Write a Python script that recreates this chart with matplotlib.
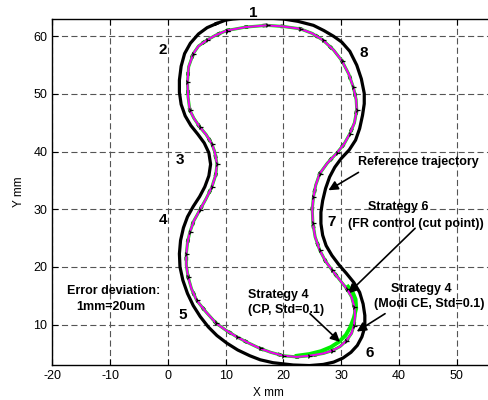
import numpy as np
import matplotlib.pyplot as plt

plt.rcParams['font.family'] = ['Liberation Sans', 'DejaVu Sans']
plt.rcParams['axes.unicode_minus'] = False

# reference trajectory (thick black), clockwise from top
ref_x = [8.4, 10.0, 11.3, 13.0, 15.0, 17.5, 20.0, 22.5, 25.2, 27.0, 28.7, 30.1, 31.5,
         32.7, 33.5, 34.0, 34.0, 33.7, 33.2, 32.5, 31.4, 30.0, 28.9, 28.0, 27.3,
         26.8, 26.5, 26.5, 26.8, 27.4, 28.4, 29.6, 30.9, 32.2, 33.2, 33.8, 34.1,
         34.1, 33.6, 32.8, 31.7, 30.3, 28.7, 26.9, 24.5, 21.7, 18.2, 16.0, 14.2,
         12.1, 10.2, 8.5, 7.0, 5.6, 4.4, 3.4, 2.6, 2.1, 2.0, 2.2, 2.7, 3.4, 4.4,
         5.5, 6.4, 7.1, 7.4, 7.1, 6.3, 5.2, 4.0, 3.0, 2.3, 2.0, 2.0, 2.3, 2.9,
         3.9, 5.3, 6.8, 8.4]
ref_y = [62.2, 62.8, 63.0, 63.15, 63.2, 63.15, 63.0, 62.6, 61.9, 61.0, 60.0, 59.0, 57.4,
         55.0, 52.6, 50.1, 48.3, 46.3, 44.0, 42.0, 40.3, 38.8, 37.3, 35.6, 33.6,
         31.5, 29.5, 27.5, 25.5, 23.7, 22.0, 20.4, 18.9, 17.3, 15.6, 13.6, 11.6,
         9.6, 7.9, 6.4, 5.2, 4.2, 3.5, 3.1, 2.9, 3.0, 3.4, 3.9, 4.6,
         5.6, 6.8, 8.1, 9.6, 11.4, 13.3, 15.4, 17.7, 20.0, 22.3, 24.6, 26.8, 28.7, 30.5,
         32.2, 33.9, 35.8, 37.8, 39.8, 41.5, 43.0, 44.5, 46.2, 48.2, 50.3, 52.4, 54.8, 57.0,
         58.8, 60.4, 61.5, 62.2]

# measured contour (magenta), clockwise from top
meas_x = [10.2, 13.5, 17.1, 20.0, 22.9, 25.0, 26.9, 28.7, 30.1, 31.3, 32.1, 32.6, 32.7,
          32.3, 31.5, 30.5, 29.2, 27.6, 26.3, 25.6, 25.2, 25.0, 25.1, 25.5, 26.3,
          27.3, 28.4, 29.8, 31.0, 31.8, 32.3, 32.4, 32.2, 31.8, 30.9, 29.8, 28.5,
          26.9, 24.5, 22.3, 20.0, 17.8, 15.9, 13.8, 11.9, 10.1, 8.4, 6.6, 5.0, 4.1,
          3.5, 3.2, 3.2, 3.4, 3.8, 4.5, 5.5, 6.6, 7.6, 8.3, 8.5, 8.1, 7.6, 6.6, 5.5,
          4.5, 3.8, 3.5, 3.4, 3.6, 4.4, 5.3, 6.7, 8.3, 10.2]
meas_y = [61.0, 61.6, 61.9, 61.7, 61.3, 60.5, 59.3, 57.6, 55.8, 53.5, 51.2, 49.0, 47.2,
          45.0, 43.1, 41.3, 39.7, 38.0, 36.2, 34.2, 32.1, 30.0, 27.6, 25.2, 22.9,
          21.0, 19.5, 17.7, 16.2, 14.8, 13.0, 11.4, 9.8, 8.5, 7.2, 6.2, 5.5,
          5.0, 4.6, 4.4, 4.6, 5.2, 5.9, 6.9, 7.9, 9.0, 10.2, 12.2, 14.2, 16.2,
          18.3, 20.3, 22.3, 24.2, 26.0, 28.0, 29.8, 31.8, 33.8, 36.0, 37.9, 40.0, 41.4, 43.0, 44.3,
          45.8, 47.2, 49.5, 52.0, 54.7, 57.0, 58.3, 59.3, 60.2, 61.0]

# green trace where it leaves the magenta one (bottom right)
green_x = [22.3, 24.5, 26.5, 28.2, 29.6, 30.8, 31.6, 32.2, 32.6, 32.5, 32.0, 31.2]
green_y = [4.6, 4.9, 5.4, 6.1, 7.0, 8.2, 9.6, 11.2, 12.8, 14.4, 15.6, 16.6]

seg_labels = ['1', '2', '3', '4', '5', '6', '7', '8']
seg_x = [14.7, -0.8, 2.1, -0.9, 2.6, 34.9, 28.3, 33.9]
seg_y = [64.1, 57.6, 38.5, 28.1, 11.6, 5.0, 27.8, 57.1]

fig = plt.figure(figsize=(4.88, 4.00), dpi=100)
ax = fig.add_axes([0.1072, 0.0875, 0.947, 0.865])

ax.plot(meas_x, meas_y, color='black', lw=2.6, ls=(0, (1, 4)), zorder=3)
ax.plot(meas_x, meas_y, color='#00ee00', lw=2.2, zorder=3, solid_joinstyle='round')
ax.plot(green_x, green_y, color='#00ee00', lw=2.8, zorder=3, solid_joinstyle='round')
ax.plot(meas_x, meas_y, color='#ee00ee', lw=1.5, zorder=4, solid_joinstyle='round')
ax.plot(meas_x[::2], meas_y[::2], ls='none', marker='4', ms=4, mew=0.9,
        color='black', zorder=5)
ax.plot(ref_x, ref_y, color='black', lw=2.3, zorder=5, solid_joinstyle='round')

for lab, x, y in zip(seg_labels, seg_x, seg_y):
    ax.text(x, y, lab, fontsize=11, fontweight='bold', ha='center', va='center',
            clip_on=False)

tkw = dict(fontsize=9, fontweight='bold', clip_on=False)
akw = dict(arrowstyle='-|>', color='black', lw=1.2, mutation_scale=14,
           shrinkA=0, shrinkB=0)

ax.text(32.9, 38.2, 'Reference trajectory', ha='left', va='center', **tkw)
ax.annotate('', xy=(27.8, 33.3), xytext=(33.0, 36.4), arrowprops=akw)

ax.text(34.7, 30.4, 'Strategy 6', ha='left', va='center', **tkw)
ax.text(31.2, 27.5, '(FR control (cut point))', ha='left', va='center', **tkw)
ax.annotate('', xy=(31.2, 15.4), xytext=(42.8, 26.7), arrowprops=akw)

ax.text(38.6, 16.2, 'Strategy 4', ha='left', va='center', **tkw)
ax.text(35.7, 13.6, '(Modi CE, Std=0.1)', ha='left', va='center', **tkw)
ax.annotate('', xy=(32.7, 8.8), xytext=(37.6, 11.9), arrowprops=akw)

ax.text(13.9, 15.2, 'Strategy 4', ha='left', va='center', **tkw)
ax.text(13.9, 12.5, '(CP, Std=0.1)', ha='left', va='center', **tkw)
ax.annotate('', xy=(29.8, 7.0), xytext=(24.6, 11.9), arrowprops=akw)

ax.text(-9.3, 15.9, 'Error deviation:', ha='center', va='center', **tkw)
ax.text(-9.8, 13.1, '1mm=20um', ha='center', va='center', **tkw)

ax.set_xlim(-20, 60)
ax.set_ylim(3, 63)
ax.set_xticks(np.arange(-20, 60, 10))
ax.set_yticks([10, 20, 30, 40, 50, 60])
ax.tick_params(direction='in', top=True, right=True, length=4, labelsize=9)
ax.grid(True, color='#555555', ls=(0, (5.5, 3)), lw=0.8)
for s in ax.spines.values():
    s.set_linewidth(1.0)

ax.set_xlabel('X mm', fontsize=8.5, labelpad=2)
ax.xaxis.set_label_coords(0.467, -0.065)
ax.set_ylabel('Y mm', fontsize=8.5, labelpad=6)

fig.savefig('out.png', dpi=100)
